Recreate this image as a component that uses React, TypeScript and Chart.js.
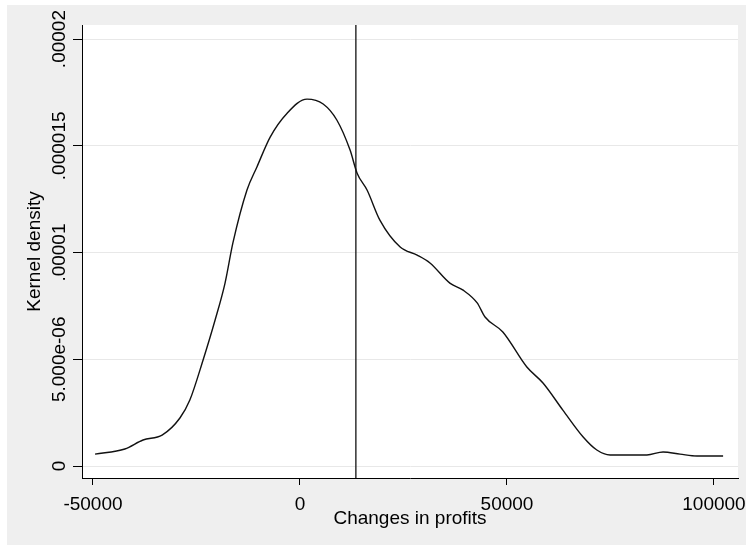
import React, { useEffect, useRef } from "react";
import { Chart, registerables } from "chart.js";

Chart.register(...registerables);

// Changes in profits (x) and kernel density estimate (y)
const profitChanges = [
  -49500, -42300, -37900, -33300, -29000, -26600, -23400, -20500, -18100, -16200,
  -12800, -10400, -7200, -3100, 1700, 5600, 8900, 12100, 13800, 16200,
  19300, 24200, 28300, 31400, 36200, 39400, 42800, 44700, 49000, 54800,
  58700, 63500, 68400, 71700, 74900, 83800, 87700, 91800, 95900, 102200,
];
const kernelDensity = [
  5.6e-7, 8.0e-7, 1.22e-6, 1.45e-6, 2.25e-6, 3.09e-6, 4.97e-6, 6.84e-6, 8.57e-6, 1.045e-5,
  1.293e-5, 1.401e-5, 1.541e-5, 1.653e-5, 1.719e-5, 1.696e-5, 1.621e-5, 1.48e-5, 1.372e-5, 1.293e-5,
  1.152e-5, 1.026e-5, 9.88e-6, 9.51e-6, 8.57e-6, 8.24e-6, 7.64e-6, 6.98e-6, 6.28e-6, 4.64e-6,
  3.89e-6, 2.62e-6, 1.36e-6, 7.5e-7, 5.2e-7, 5.2e-7, 6.6e-7, 5.6e-7, 4.7e-7, 4.7e-7,
];
const meanChange = 13500;

const xTicks = [-50000, 0, 50000, 100000];
const xTickLabels = ["-50000", "0", "50000", "100000"];
const yTicks = [0, 5e-6, 1e-5, 1.5e-5, 2e-5];
const yTickLabels = ["0", "5.000e-06", ".00001", ".000015", ".00002"];

const xRange = [-52650, 105800];
const yRange = [-5.6e-7, 2.066e-5];

const FONT = '"Liberation Sans", Arial, sans-serif';

export default function App() {
  const ref = useRef<HTMLCanvasElement | null>(null);

  useEffect(() => {
    document.body.style.overflow = "hidden";
    if (!ref.current) return;
    const curve = profitChanges.map((x, i) => ({ x, y: kernelDensity[i] }));
    const meanLine = [
      { x: meanChange, y: yRange[0] },
      { x: meanChange, y: yRange[1] },
    ];

    const plotBg = {
      id: "plotBg",
      beforeDraw(chart: any) {
        const { ctx, chartArea } = chart;
        ctx.save();
        ctx.fillStyle = "#ffffff";
        ctx.fillRect(chartArea.left, chartArea.top, chartArea.right - chartArea.left, chartArea.bottom - chartArea.top);
        ctx.restore();
      },
    };

    const yLabels = {
      id: "yLabels",
      afterDraw(chart: any) {
        const { ctx } = chart;
        const ys = chart.scales.y;
        ctx.save();
        ctx.font = `19px ${FONT}`;
        ctx.fillStyle = "#000";
        ctx.textAlign = "center";
        ctx.textBaseline = "alphabetic";
        yTicks.forEach((v, i) => {
          const py = ys.getPixelForValue(v);
          ctx.save();
          ctx.translate(58, py);
          ctx.rotate(-Math.PI / 2);
          ctx.fillText(yTickLabels[i], 0, 0);
          ctx.restore();
        });
        ctx.restore();
      },
    };

    const chart = new Chart(ref.current, {
      type: "line",
      data: {
        datasets: [
          {
            data: curve,
            borderColor: "#111",
            borderWidth: 1.4,
            pointRadius: 0,
            tension: 0.3,
            cubicInterpolationMode: "monotone",
            fill: false,
          },
          {
            data: meanLine,
            borderColor: "#222",
            borderWidth: 1.4,
            pointRadius: 0,
            fill: false,
          },
        ],
      },
      options: {
        animation: false,
        responsive: false,
        devicePixelRatio: 1,
        layout: { padding: { top: 20, right: 8, left: 0, bottom: 0 } },
        plugins: { legend: { display: false }, tooltip: { enabled: false } },
        scales: {
          x: {
            type: "linear",
            min: xRange[0],
            max: xRange[1],
            afterBuildTicks: (s: any) => {
              s.ticks = xTicks.map((v) => ({ value: v }));
            },
            afterFit: (s: any) => {
              s.height = 67;
              s.paddingLeft = 0;
              s.paddingRight = 0;
            },
            ticks: {
              autoSkip: false,
              maxRotation: 0,
              minRotation: 0,
              padding: 8,
              color: "#000",
              font: { family: FONT, size: 19 },
              callback: (v: any) => xTickLabels[xTicks.indexOf(Number(v))],
            },
            grid: {
              drawOnChartArea: false,
              drawTicks: true,
              tickLength: 7,
              tickColor: "#000",
              tickWidth: 1,
            },
            border: { display: true, color: "#000", width: 1 },
            title: {
              display: true,
              text: "Changes in profits",
              color: "#000",
              font: { family: FONT, size: 19 },
              padding: { top: 0, bottom: 15 },
            },
          },
          y: {
            type: "linear",
            min: yRange[0],
            max: yRange[1],
            afterBuildTicks: (s: any) => {
              s.ticks = yTicks.map((v) => ({ value: v }));
            },
            afterFit: (s: any) => {
              s.width = 75;
              s.paddingTop = 0;
              s.paddingBottom = 0;
            },
            ticks: { display: false },
            grid: {
              color: "#e8e8e8",
              lineWidth: 1,
              drawTicks: true,
              tickLength: 9,
              tickColor: "#000",
              tickWidth: 1,
            },
            border: { display: true, color: "#000", width: 1 },
            title: {
              display: true,
              text: "Kernel density",
              color: "#000",
              font: { family: FONT, size: 19 },
              padding: { top: 16, bottom: 0 },
            },
          },
        },
      },
      plugins: [plotBg, yLabels],
    } as any);

    return () => chart.destroy();
  }, []);

  return (
    <div
      style={{
        position: "absolute",
        left: 7,
        top: 5,
        width: 760,
        height: 560,
        background: "#efefef",
      }}
    >
      <canvas ref={ref} width={739} height={540} style={{ display: "block" }} />
    </div>
  );
}
